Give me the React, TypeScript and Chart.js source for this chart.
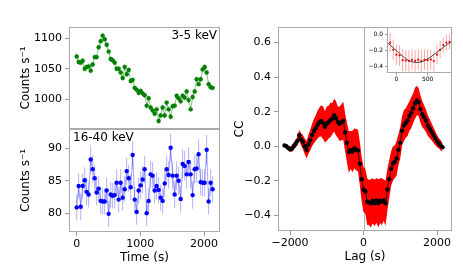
import React, { useEffect, useRef } from 'react';
import { Chart, registerables } from 'chart.js';
Chart.register(...registerables);

const FONT = 'DejaVu Sans';

const times = [0, 31, 63, 94, 126, 157, 188, 220, 251, 283, 314, 345, 377, 408, 440, 471, 502, 534, 565, 597, 628, 659, 691, 722, 754, 785, 816, 848, 879, 911, 942, 973, 1005, 1036, 1068, 1099, 1130, 1162, 1193, 1225, 1256, 1287, 1319, 1350, 1382, 1413, 1444, 1476, 1507, 1539, 1570, 1601, 1633, 1664, 1696, 1727, 1758, 1790, 1821, 1853, 1884, 1915, 1947, 1978, 2010, 2041, 2072, 2104, 2135];

const softRate = [1070, 1061, 1060, 1063, 1050, 1053, 1054, 1047, 1057, 1069,
  1069, 1085, 1095, 1104, 1098, 1089, 1078, 1066, 1064, 1060,
  1050, 1050, 1044, 1035, 1053, 1041, 1048, 1030, 1032, 1019,
  1016, 1011, 1014, 1010, 1007, 990, 1002, 987, 982, 977,
  984, 965, 974, 987, 974, 995, 984, 972, 989, 990,
  1006, 1002, 997, 1006, 1003, 1013, 999, 984, 1004, 1013,
  1033, 1025, 1033, 1049, 1053, 1044, 1025, 1020, 1019];

const softErr = [5, 5, 4.5, 5, 5, 4.5, 5, 5, 4.5, 5,
  5, 5, 5, 5, 5, 5, 4.5, 5, 5, 5,
  5, 4.5, 5, 5, 5, 5, 4.5, 5, 5, 5,
  4.5, 5, 5, 5, 4.5, 5, 5, 5, 4.5, 5,
  5, 5, 4.5, 5, 5, 5, 4.5, 5, 5, 5,
  4.5, 5, 5, 5, 5, 4.5, 5, 5, 5, 5,
  4.5, 5, 5, 5, 5, 4.5, 5, 5, 5];

const hardRate = [80.9, 84.2, 81.0, 84.2, 85.1, 83.3, 82.9, 88.3, 86.8, 85.4,
  83.2, 83.8, 81.9, 81.8, 81.8, 83.5, 79.9, 82.9, 82.7, 82.8,
  84.7, 82.1, 84.7, 82.4, 83.7, 86.5, 85.4, 84.0, 89.0, 82.1,
  80.2, 83.5, 84.3, 85.2, 86.8, 80.0, 81.9, 86.0, 85.8, 83.5,
  84.2, 83.6, 82.4, 81.9, 84.6, 86.8, 85.9, 90.1, 85.8, 82.9,
  85.8, 85.0, 82.2, 87.6, 87.3, 86.0, 87.9, 86.0, 82.8, 86.8,
  86.9, 89.1, 84.8, 84.7, 84.7, 89.8, 81.8, 84.7, 83.7];

const hardErr = [2.0, 2.0, 2.1, 2.0, 2.0, 2.1, 2.0, 2.2, 2.1, 2.0,
  2.0, 2.0, 2.0, 2.0, 2.0, 2.0, 2.0, 2.0, 2.0, 2.0,
  2.1, 2.0, 2.1, 2.0, 2.0, 2.1, 2.1, 2.0, 2.2, 2.0,
  2.0, 2.0, 2.1, 2.1, 2.1, 2.0, 2.0, 2.1, 2.1, 2.0,
  2.1, 2.0, 2.0, 2.0, 2.1, 2.1, 2.1, 2.2, 2.1, 2.1,
  2.2, 2.2, 2.1, 2.3, 2.3, 2.2, 2.3, 2.2, 2.1, 2.2,
  2.2, 2.3, 2.1, 2.1, 2.1, 2.3, 2.0, 2.1, 2.0];

const lags = [-2150, -2100, -2050, -2000, -1950, -1900, -1850, -1800, -1750, -1700,
  -1650, -1600, -1550, -1500, -1450, -1400, -1350, -1300, -1250, -1200,
  -1150, -1100, -1050, -1000, -950, -900, -850, -800, -750, -700,
  -650, -600, -550, -500, -450, -400, -350, -300, -250, -200,
  -150, -100, -50, 0, 50, 100, 150, 200, 250, 300,
  350, 400, 450, 500, 550, 600, 650, 700, 750, 800,
  850, 900, 950, 1000, 1050, 1100, 1150, 1200, 1250, 1300,
  1350, 1400, 1450, 1500, 1550, 1600, 1650, 1700, 1750, 1800,
  1850, 1900, 1950, 2000, 2050, 2100, 2150];

const ccValues = [0.005, 0.0, -0.01, -0.017, -0.014, 0.0, 0.015, 0.03, 0.064, 0.04,
  0.025, 0.0, -0.02, 0.01, 0.035, 0.065, 0.088, 0.105, 0.125, 0.14,
  0.147, 0.135, 0.112, 0.13, 0.14, 0.152, 0.16, 0.18, 0.162, 0.14,
  0.13, 0.14, 0.147, 0.08, 0.02, -0.033, -0.022, -0.03, -0.012, -0.02,
  -0.025, -0.1, -0.19, -0.25, -0.26, -0.32, -0.325, -0.33, -0.315, -0.328,
  -0.313, -0.33, -0.315, -0.32, -0.312, -0.33, -0.25, -0.19, -0.13, -0.1,
  -0.09, -0.07, -0.02, 0.02, 0.09, 0.12, 0.135, 0.15, 0.175, 0.195,
  0.22, 0.248, 0.265, 0.255, 0.215, 0.185, 0.168, 0.148, 0.12, 0.103,
  0.085, 0.066, 0.048, 0.03, 0.018, 0.005, -0.005];

const ccErr = [0.01, 0.012, 0.015, 0.015, 0.018, 0.02, 0.022, 0.025, 0.03, 0.035,
  0.04, 0.045, 0.05, 0.055, 0.06, 0.065, 0.07, 0.075, 0.08, 0.085,
  0.09, 0.095, 0.09, 0.1, 0.095, 0.1, 0.09, 0.095, 0.1, 0.09,
  0.1, 0.105, 0.11, 0.11, 0.115, 0.12, 0.11, 0.12, 0.115, 0.12,
  0.12, 0.125, 0.13, 0.13, 0.13, 0.135, 0.13, 0.14, 0.13, 0.135,
  0.13, 0.14, 0.13, 0.135, 0.12, 0.13, 0.12, 0.11, 0.1, 0.1,
  0.095, 0.1, 0.09, 0.09, 0.085, 0.09, 0.085, 0.09, 0.085, 0.09,
  0.085, 0.09, 0.085, 0.08, 0.08, 0.075, 0.07, 0.065, 0.06, 0.055,
  0.05, 0.045, 0.04, 0.035, 0.03, 0.03, 0.025];

const fitLags = [-150, -100, -50, 0, 50, 100, 150, 200, 250, 300, 350, 400, 450, 500, 550, 600, 650, 700, 750, 800, 850, 900];
const fitCC = [-0.10, -0.13, -0.165, -0.2, -0.235, -0.27, -0.3, -0.325, -0.34, -0.347, -0.347, -0.34, -0.325, -0.305, -0.28, -0.25, -0.22, -0.19, -0.16, -0.13, -0.105, -0.08];

const timeTicks = [0, 1000, 2000];
const softTicks = [1000, 1050, 1100];
const hardTicks = [80, 85, 90];
const lagTicks = [-2000, 0, 2000];
const ccTicks = [-0.4, -0.2, 0, 0.2, 0.4, 0.6];
const insetXTicks = [0, 500];
const insetYTicks = [-0.4, -0.2, 0];

const fmt = (v: number, d: number) => v.toFixed(d).replace('-', '\u2212');

const framePlugin = {
  id: 'frame',
  afterDatasetsDraw(chart: any) {
    const { ctx, chartArea: a } = chart;
    ctx.save();
    ctx.strokeStyle = '#aaaaaa';
    ctx.lineWidth = 1;
    const l = Math.round(a.left), t = Math.round(a.top), r = Math.round(a.right), b = Math.round(a.bottom);
    ctx.strokeRect(l + 0.5, t + 0.5, r - l - 1, b - t - 1);
    ctx.restore();
  },
};

const errorBarPlugin = {
  id: 'errbars',
  beforeDatasetsDraw(chart: any) {
    const { ctx, chartArea: a } = chart;
    chart.data.datasets.forEach((ds: any, i: number) => {
      const errs = ds.errors;
      if (!errs) return;
      const meta = chart.getDatasetMeta(i);
      const xs = chart.scales[meta.xAxisID];
      const ys = chart.scales[meta.yAxisID];
      ctx.save();
      ctx.beginPath();
      ctx.rect(a.left, a.top, a.right - a.left, a.bottom - a.top);
      ctx.clip();
      ctx.strokeStyle = ds.errorColor;
      ctx.lineWidth = ds.errorWidth || 1;
      ctx.beginPath();
      ds.data.forEach((p: any, j: number) => {
        const x = xs.getPixelForValue(p.x);
        ctx.moveTo(x, ys.getPixelForValue(p.y - errs[j]));
        ctx.lineTo(x, ys.getPixelForValue(p.y + errs[j]));
      });
      ctx.stroke();
      ctx.restore();
    });
  },
};

const labelPlugin = (text: string, align: 'left' | 'right') => ({
  id: 'panelLabel',
  afterDraw(chart: any) {
    const { ctx, chartArea: a } = chart;
    ctx.save();
    ctx.font = `12px "${FONT}"`;
    ctx.fillStyle = '#000';
    ctx.textBaseline = 'middle';
    ctx.textAlign = align;
    const x = align === 'left' ? a.left + 4 : a.right - 3;
    ctx.fillText(text, x, a.top + 9);
    ctx.restore();
  },
});

const zeroLinePlugin = {
  id: 'zeroLine',
  beforeDatasetsDraw(chart: any) {
    const { ctx, chartArea: a } = chart;
    const x = Math.round(chart.scales.x.getPixelForValue(0)) + 0.5;
    ctx.save();
    ctx.strokeStyle = '#b0b0b0';
    ctx.lineWidth = 1;
    ctx.beginPath();
    ctx.moveTo(x, a.top);
    ctx.lineTo(x, a.bottom);
    ctx.stroke();
    ctx.restore();
  },
};

const whiteAreaPlugin = {
  id: 'whiteArea',
  beforeDraw(chart: any) {
    const { ctx, chartArea: a } = chart;
    ctx.save();
    ctx.fillStyle = '#fff';
    ctx.fillRect(a.left, a.top, a.right - a.left, a.bottom - a.top);
    ctx.restore();
  },
};

const zeroPad = (s: any) => {
  s.paddingTop = 0; s.paddingBottom = 0; s.paddingLeft = 0; s.paddingRight = 0;
};

function yAxis(min: number, max: number, tickVals: number[], dec: number, width: number, size: number, title?: string, titlePad = 0, tickLen = 4, pad = 3) {
  return {
    type: 'linear', position: 'left', min, max,
    afterBuildTicks: (s: any) => { s.ticks = tickVals.map((v) => ({ value: v })); },
    afterFit: (s: any) => { s.width = width; zeroPad(s); },
    ticks: { color: '#000', font: { family: FONT, size }, padding: pad, callback: (v: any) => fmt(Number(v), dec) },
    grid: { drawOnChartArea: false, drawTicks: true, tickLength: tickLen, tickColor: '#999' },
    border: { display: false },
    title: title
      ? { display: true, text: title, color: '#000', font: { family: FONT, size: 12 }, padding: { top: titlePad, bottom: 0 } }
      : { display: false },
  };
}

function xAxis(min: number, max: number, tickVals: number[], height: number, size: number, show: boolean, title?: string, titlePad = 0, tickLen = 4, pad = 2) {
  return {
    type: 'linear', position: 'bottom', min, max, display: show,
    afterBuildTicks: (s: any) => { s.ticks = tickVals.map((v) => ({ value: v })); },
    afterFit: (s: any) => { s.height = height; zeroPad(s); },
    ticks: { color: '#000', font: { family: FONT, size }, padding: pad, maxRotation: 0, callback: (v: any) => fmt(Number(v), 0) },
    grid: { drawOnChartArea: false, drawTicks: true, tickLength: tickLen, tickColor: '#999' },
    border: { display: false },
    title: title
      ? { display: true, text: title, color: '#000', font: { family: FONT, size: 12 }, padding: { top: 0, bottom: titlePad } }
      : { display: false },
  };
}

const common = {
  animation: false,
  responsive: false,
  maintainAspectRatio: false,
  events: [],
  plugins: { legend: { display: false }, tooltip: { enabled: false } },
  elements: { line: { tension: 0 } },
};

export default function App() {
  const topRef = useRef<HTMLCanvasElement>(null);
  const botRef = useRef<HTMLCanvasElement>(null);
  const ccRef = useRef<HTMLCanvasElement>(null);
  const insetRef = useRef<HTMLCanvasElement>(null);

  useEffect(() => {
    const charts: Chart[] = [];
    const softPts = times.map((x, i) => ({ x, y: softRate[i] }));
    const hardPts = times.map((x, i) => ({ x, y: hardRate[i] }));

    charts.push(new Chart(topRef.current!, {
      type: 'line',
      data: {
        datasets: [{
          data: softPts, borderColor: 'rgba(0,128,0,0.45)', borderWidth: 1,
          pointRadius: 2.2, pointBackgroundColor: '#008000', pointBorderWidth: 0,
          errors: softErr, errorColor: 'rgba(0,128,0,0.35)',
        } as any],
      },
      options: {
        ...common,
        layout: { autoPadding: false, padding: { top: 27, right: 10, bottom: 0, left: 0 } },
        scales: {
          x: xAxis(-121, 2251, timeTicks, 0, 11, false),
          y: yAxis(952, 1118, softTicks, 0, 69, 11, 'Counts s\u207B\u00B9', 19),
        },
      } as any,
      plugins: [errorBarPlugin, framePlugin, labelPlugin('3-5 keV', 'right')],
    }));

    charts.push(new Chart(botRef.current!, {
      type: 'line',
      data: {
        datasets: [{
          data: hardPts, borderColor: 'rgba(0,0,255,0.35)', borderWidth: 1,
          pointRadius: 2.2, pointBackgroundColor: '#0000ff', pointBorderWidth: 0,
          errors: hardErr, errorColor: 'rgba(0,0,255,0.3)',
        } as any],
      },
      options: {
        ...common,
        layout: { autoPadding: false, padding: { top: 0, right: 10, bottom: 0, left: 0 } },
        scales: {
          x: xAxis(-121, 2251, timeTicks, 40, 11, true, 'Time (s)', 7),
          y: yAxis(77.1, 93, hardTicks, 0, 69, 11, 'Counts s\u207B\u00B9', 19),
        },
      } as any,
      plugins: [errorBarPlugin, framePlugin, labelPlugin('16-40 keV', 'left')],
    }));

    const ccPts = lags.map((x, i) => ({ x, y: ccValues[i] }));
    const lowPts = lags.map((x, i) => ({ x, y: ccValues[i] - ccErr[i] }));
    const upPts = lags.map((x, i) => ({ x, y: ccValues[i] + ccErr[i] }));

    charts.push(new Chart(ccRef.current!, {
      type: 'line',
      data: {
        datasets: [
          { data: ccPts, borderColor: '#000', borderWidth: 0.8, pointRadius: 2.2, pointBackgroundColor: '#000', pointBorderWidth: 0, order: 0 },
          { data: lowPts, borderWidth: 0, borderColor: 'rgba(0,0,0,0)', pointRadius: 0, fill: false, order: 2 },
          { data: upPts, borderWidth: 0, borderColor: 'rgba(0,0,0,0)', pointRadius: 0, fill: 1, backgroundColor: '#ff0000', order: 1 },
        ] as any,
      },
      options: {
        ...common,
        layout: { autoPadding: false, padding: { top: 27, right: 11, bottom: 0, left: 0 } },
        scales: {
          x: xAxis(-2327, 2408, lagTicks, 41, 11, true, 'Lag (s)', 8),
          y: yAxis(-0.49, 0.69, ccTicks, 1, 48, 11, 'CC', 3),
        },
      } as any,
      plugins: [zeroLinePlugin, framePlugin],
    }));

    const inIdx = lags.map((l, i) => i).filter((i) => lags[i] >= -150 && lags[i] <= 900);
    const insetPts = inIdx.map((i) => ({ x: lags[i], y: ccValues[i] }));
    const insetErr = inIdx.map((i) => ccErr[i]);
    const fitPts = fitLags.map((x, i) => ({ x, y: fitCC[i] }));

    charts.push(new Chart(insetRef.current!, {
      type: 'line',
      data: {
        datasets: [
          { data: fitPts, borderColor: '#333', borderWidth: 0.9, pointRadius: 0, order: 0 },
          {
            data: insetPts, showLine: false, pointRadius: 1.1, pointBackgroundColor: '#ff0000', pointBorderWidth: 0,
            errors: insetErr, errorColor: 'rgba(255,60,60,0.45)', order: 1,
          },
        ] as any,
      },
      options: {
        ...common,
        layout: { autoPadding: false, padding: { top: 7, right: 1, bottom: 0, left: 0 } },
        scales: {
          x: xAxis(-150, 890, insetXTicks, 13, 6, true, undefined, 0, 2, 1),
          y: yAxis(-0.48, 0.096, insetYTicks, 1, 27, 6, undefined, 0, 2, 2),
        },
      } as any,
      plugins: [whiteAreaPlugin, errorBarPlugin, framePlugin],
    }));

    return () => { charts.forEach((c) => c.destroy()); };
  }, []);

  const abs = (l: number, t: number, w: number, h: number): React.CSSProperties => ({
    position: 'absolute', left: l, top: t, width: w, height: h,
  });

  return (
    <div style={{ position: 'absolute', left: 0, top: 0, width: 463, height: 272, background: '#fff' }}>
      <canvas ref={topRef} width={230} height={129} style={abs(0, 0, 230, 129)} />
      <canvas ref={botRef} width={230} height={143} style={abs(0, 129, 230, 143)} />
      <canvas ref={ccRef} width={233} height={272} style={abs(230, 0, 233, 272)} />
      <canvas ref={insetRef} width={93} height={66} style={abs(360, 20, 93, 66)} />
    </div>
  );
}
